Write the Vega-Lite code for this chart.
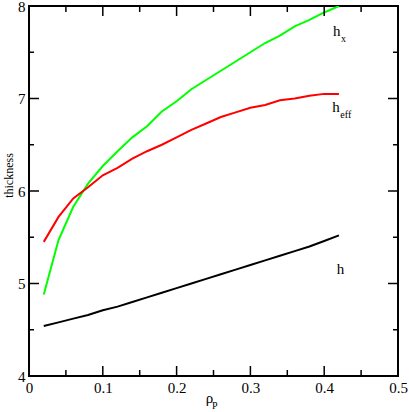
{
  "$schema": "https://vega.github.io/schema/vega-lite/v6.json",
  "width": 369,
  "height": 370,
  "autosize": {"type": "none"},
  "padding": {"left": 29, "top": 6, "right": 11, "bottom": 36},
  "background": "white",
  "config": {
    "view": {"stroke": "black", "strokeWidth": 2},
    "font": "Liberation Serif, DejaVu Serif, serif",
    "rule": {"stroke": "black", "strokeWidth": 1.5},
    "axis": {"grid": false, "domain": false, "ticks": false, "labelFont": "Liberation Serif, DejaVu Serif, serif", "titleFont": "Liberation Serif, DejaVu Serif, serif", "labelFontSize": 15, "titleFontSize": 15, "titleFontWeight": "normal", "labelColor": "black", "titleColor": "black"}
  },
  "datasets": {
    "curves": [
      {"rho": 0.02, "value": 4.54, "series": "h"},
      {"rho": 0.04, "value": 4.58, "series": "h"},
      {"rho": 0.06, "value": 4.62, "series": "h"},
      {"rho": 0.08, "value": 4.66, "series": "h"},
      {"rho": 0.10, "value": 4.71, "series": "h"},
      {"rho": 0.12, "value": 4.75, "series": "h"},
      {"rho": 0.14, "value": 4.80, "series": "h"},
      {"rho": 0.16, "value": 4.85, "series": "h"},
      {"rho": 0.18, "value": 4.90, "series": "h"},
      {"rho": 0.20, "value": 4.95, "series": "h"},
      {"rho": 0.22, "value": 5.00, "series": "h"},
      {"rho": 0.24, "value": 5.05, "series": "h"},
      {"rho": 0.26, "value": 5.10, "series": "h"},
      {"rho": 0.28, "value": 5.15, "series": "h"},
      {"rho": 0.30, "value": 5.20, "series": "h"},
      {"rho": 0.32, "value": 5.25, "series": "h"},
      {"rho": 0.34, "value": 5.30, "series": "h"},
      {"rho": 0.36, "value": 5.35, "series": "h"},
      {"rho": 0.38, "value": 5.40, "series": "h"},
      {"rho": 0.40, "value": 5.46, "series": "h"},
      {"rho": 0.42, "value": 5.52, "series": "h"},
      {"rho": 0.02, "value": 4.88, "series": "hx"},
      {"rho": 0.04, "value": 5.47, "series": "hx"},
      {"rho": 0.06, "value": 5.83, "series": "hx"},
      {"rho": 0.08, "value": 6.08, "series": "hx"},
      {"rho": 0.10, "value": 6.27, "series": "hx"},
      {"rho": 0.12, "value": 6.43, "series": "hx"},
      {"rho": 0.14, "value": 6.58, "series": "hx"},
      {"rho": 0.16, "value": 6.70, "series": "hx"},
      {"rho": 0.18, "value": 6.86, "series": "hx"},
      {"rho": 0.20, "value": 6.97, "series": "hx"},
      {"rho": 0.22, "value": 7.10, "series": "hx"},
      {"rho": 0.24, "value": 7.20, "series": "hx"},
      {"rho": 0.26, "value": 7.30, "series": "hx"},
      {"rho": 0.28, "value": 7.40, "series": "hx"},
      {"rho": 0.30, "value": 7.50, "series": "hx"},
      {"rho": 0.32, "value": 7.60, "series": "hx"},
      {"rho": 0.34, "value": 7.68, "series": "hx"},
      {"rho": 0.36, "value": 7.78, "series": "hx"},
      {"rho": 0.38, "value": 7.85, "series": "hx"},
      {"rho": 0.40, "value": 7.93, "series": "hx"},
      {"rho": 0.42, "value": 8.00, "series": "hx"},
      {"rho": 0.02, "value": 5.45, "series": "heff"},
      {"rho": 0.04, "value": 5.72, "series": "heff"},
      {"rho": 0.06, "value": 5.92, "series": "heff"},
      {"rho": 0.08, "value": 6.04, "series": "heff"},
      {"rho": 0.10, "value": 6.17, "series": "heff"},
      {"rho": 0.12, "value": 6.25, "series": "heff"},
      {"rho": 0.14, "value": 6.35, "series": "heff"},
      {"rho": 0.16, "value": 6.43, "series": "heff"},
      {"rho": 0.18, "value": 6.50, "series": "heff"},
      {"rho": 0.20, "value": 6.58, "series": "heff"},
      {"rho": 0.22, "value": 6.66, "series": "heff"},
      {"rho": 0.24, "value": 6.73, "series": "heff"},
      {"rho": 0.26, "value": 6.80, "series": "heff"},
      {"rho": 0.28, "value": 6.85, "series": "heff"},
      {"rho": 0.30, "value": 6.90, "series": "heff"},
      {"rho": 0.32, "value": 6.93, "series": "heff"},
      {"rho": 0.34, "value": 6.98, "series": "heff"},
      {"rho": 0.36, "value": 7.00, "series": "heff"},
      {"rho": 0.38, "value": 7.03, "series": "heff"},
      {"rho": 0.40, "value": 7.05, "series": "heff"},
      {"rho": 0.42, "value": 7.05, "series": "heff"}
    ],
    "labels": [
      {"rho": 0.412, "value": 7.676, "main": "h", "sub": "x"},
      {"rho": 0.411, "value": 6.854, "main": "h", "sub": "eff"},
      {"rho": 0.417, "value": 5.103, "main": "h", "sub": ""}
    ],
    "xsub": [
      {"rho": 0.248, "value": 3.643, "sub": "P"}
    ],
    "xmajor": [{"pos": 0.1}, {"pos": 0.2}, {"pos": 0.3}, {"pos": 0.4}],
    "xminor": [{"pos": 0.05}, {"pos": 0.15}, {"pos": 0.25}, {"pos": 0.35}, {"pos": 0.45}],
    "ymajor": [{"pos": 5}, {"pos": 6}, {"pos": 7}],
    "yminor": [{"pos": 4.5}, {"pos": 5.5}, {"pos": 6.5}, {"pos": 7.5}]
  },
  "layer": [
    {
      "data": {"name": "curves"},
      "mark": {"type": "line", "strokeWidth": 2, "clip": true},
      "encoding": {
        "x": {"field": "rho", "type": "quantitative", "scale": {"domain": [0, 0.5], "nice": false},
          "axis": {"orient": "bottom", "title": "ρ", "titleX": 180, "titleY": 26, "titleAnchor": "start", "titleAlign": "center", "titleBaseline": "alphabetic",
            "values": [0, 0.1, 0.2, 0.3, 0.4, 0.5], "format": "~g",
            "labelPadding": 4, "labelFlush": false, "labelOverlap": false}},
        "y": {"field": "value", "type": "quantitative", "scale": {"domain": [4, 8], "nice": false, "zero": false},
          "axis": {"orient": "left", "title": "thickness", "titleX": -17, "titleY": 169, "titleAnchor": "start", "titleAlign": "center", "titleBaseline": "alphabetic", "titleFontSize": 12,
            "values": [4, 5, 6, 7, 8], "format": "~g",
            "labelPadding": 4, "labelFlush": false, "labelOverlap": false}},
        "color": {"field": "series", "type": "nominal", "scale": {"domain": ["h", "hx", "heff"], "range": ["black", "#00ff00", "#ff0000"]}, "legend": null}
      }
    },
    {"data": {"name": "xmajor"}, "mark": "rule", "encoding": {"x": {"field": "pos", "type": "quantitative"}, "y": {"datum": 4}, "y2": {"datum": 4.108}}},
    {"data": {"name": "xminor"}, "mark": "rule", "encoding": {"x": {"field": "pos", "type": "quantitative"}, "y": {"datum": 4}, "y2": {"datum": 4.065}}},
    {"data": {"name": "xmajor"}, "mark": "rule", "encoding": {"x": {"field": "pos", "type": "quantitative"}, "y": {"datum": 8}, "y2": {"datum": 7.892}}},
    {"data": {"name": "xminor"}, "mark": "rule", "encoding": {"x": {"field": "pos", "type": "quantitative"}, "y": {"datum": 8}, "y2": {"datum": 7.935}}},
    {"data": {"name": "ymajor"}, "mark": "rule", "encoding": {"y": {"field": "pos", "type": "quantitative"}, "x": {"datum": 0}, "x2": {"datum": 0.0136}}},
    {"data": {"name": "yminor"}, "mark": "rule", "encoding": {"y": {"field": "pos", "type": "quantitative"}, "x": {"datum": 0}, "x2": {"datum": 0.0068}}},
    {"data": {"name": "ymajor"}, "mark": "rule", "encoding": {"y": {"field": "pos", "type": "quantitative"}, "x": {"datum": 0.5}, "x2": {"datum": 0.4864}}},
    {"data": {"name": "yminor"}, "mark": "rule", "encoding": {"y": {"field": "pos", "type": "quantitative"}, "x": {"datum": 0.5}, "x2": {"datum": 0.4932}}},
    {
      "data": {"name": "labels"},
      "mark": {"type": "text", "align": "left", "baseline": "alphabetic", "fontSize": 15, "font": "Liberation Serif, DejaVu Serif, serif", "color": "black"},
      "encoding": {
        "x": {"field": "rho", "type": "quantitative"},
        "y": {"field": "value", "type": "quantitative"},
        "text": {"field": "main"}
      }
    },
    {
      "data": {"name": "labels"},
      "mark": {"type": "text", "align": "left", "baseline": "alphabetic", "fontSize": 10, "font": "Liberation Serif, DejaVu Serif, serif", "color": "black", "dx": 8, "dy": 6},
      "encoding": {
        "x": {"field": "rho", "type": "quantitative"},
        "y": {"field": "value", "type": "quantitative"},
        "text": {"field": "sub"}
      }
    },
    {
      "data": {"name": "xsub"},
      "mark": {"type": "text", "align": "left", "baseline": "alphabetic", "fontSize": 10, "font": "Liberation Serif, DejaVu Serif, serif", "color": "black", "clip": false},
      "encoding": {
        "x": {"field": "rho", "type": "quantitative"},
        "y": {"field": "value", "type": "quantitative"},
        "text": {"field": "sub"}
      }
    }
  ]
}
